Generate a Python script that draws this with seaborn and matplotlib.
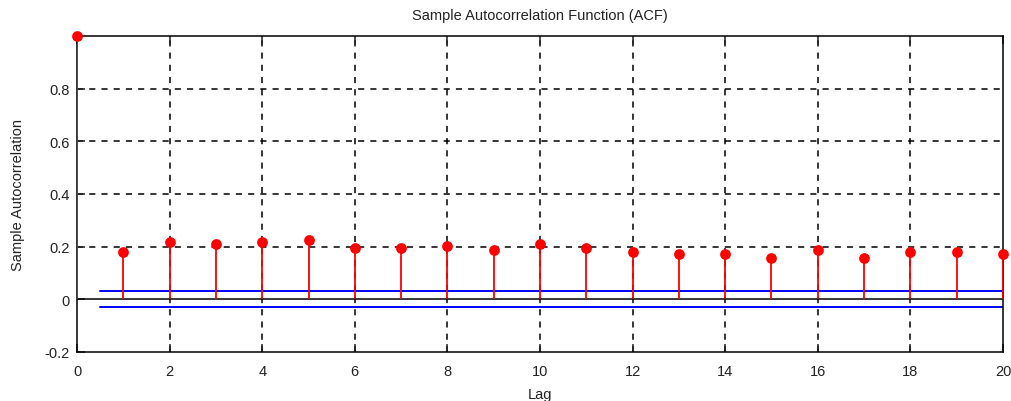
import numpy as np
import pandas as pd
import matplotlib
matplotlib.use("Agg")
import matplotlib.pyplot as plt
import seaborn as sns

lags = list(range(0, 21))
acf_values = [1.0, 0.180, 0.217, 0.211, 0.217, 0.226, 0.196, 0.195, 0.203, 0.187,
              0.211, 0.196, 0.180, 0.171, 0.171, 0.156, 0.187, 0.156, 0.180, 0.180, 0.171]
conf_bound = 0.03
x_ticks = [0, 2, 4, 6, 8, 10, 12, 14, 16, 18, 20]
y_ticks = [-0.2, 0, 0.2, 0.4, 0.6, 0.8]
y_tick_labels = ["-0.2", "0", "0.2", "0.4", "0.6", "0.8"]

sns.set_style("white")
plt.rcParams['font.family'] = ['Liberation Sans', 'DejaVu Sans']

df = pd.DataFrame({"Lag": lags, "ACF": acf_values})

fig = plt.figure(figsize=(10.12, 4.02), dpi=100)
ax = fig.add_axes([0.0761, 0.1219, 0.9150, 0.7861])

ax.set_xlim(0, 20)
ax.set_ylim(-0.2, 1.0)

# grid
for xt in x_ticks[1:-1]:
    ax.axvline(xt, color="black", linestyle=(0, (4, 4)), linewidth=1.1, zorder=0)
for yt in [0.2, 0.4, 0.6, 0.8]:
    ax.axhline(yt, color="black", linestyle=(0, (4, 4)), linewidth=1.1, zorder=0)
ax.axhline(0, color="black", linewidth=1.1, zorder=1)

# stems
ax.vlines(df["Lag"], 0, df["ACF"], color="red", linewidth=1.3, zorder=3)
sns.scatterplot(data=df, x="Lag", y="ACF", ax=ax, color="red", s=60,
                edgecolor="red", linewidth=0, zorder=4, clip_on=False)

# confidence bounds
ax.plot([0.5, 20], [conf_bound, conf_bound], color="blue", linewidth=1.4, zorder=2)
ax.plot([0.5, 20], [-conf_bound, -conf_bound], color="blue", linewidth=1.4, zorder=2)

ax.set_xticks(x_ticks)
ax.set_xticklabels([str(t) for t in x_ticks])
ax.set_yticks(y_ticks)
ax.set_yticklabels(y_tick_labels)
ax.tick_params(direction="in", length=6, width=1.1, labelsize=10.5, colors="#222222",
               top=True, right=False, bottom=True, left=True)
ax.tick_params(axis="x", pad=9)
ax.tick_params(axis="y", pad=5)
for sp in ax.spines.values():
    sp.set_color("black")
    sp.set_linewidth(1.1)

ax.set_title("Sample Autocorrelation Function (ACF)", fontsize=10.5, pad=12,
             color="#222222")
ax.set_xlabel("Lag", fontsize=10.5, labelpad=6, color="#222222")
ax.set_ylabel("Sample Autocorrelation", fontsize=10.5, labelpad=14, color="#222222")

fig.savefig("out.png", dpi=100)
